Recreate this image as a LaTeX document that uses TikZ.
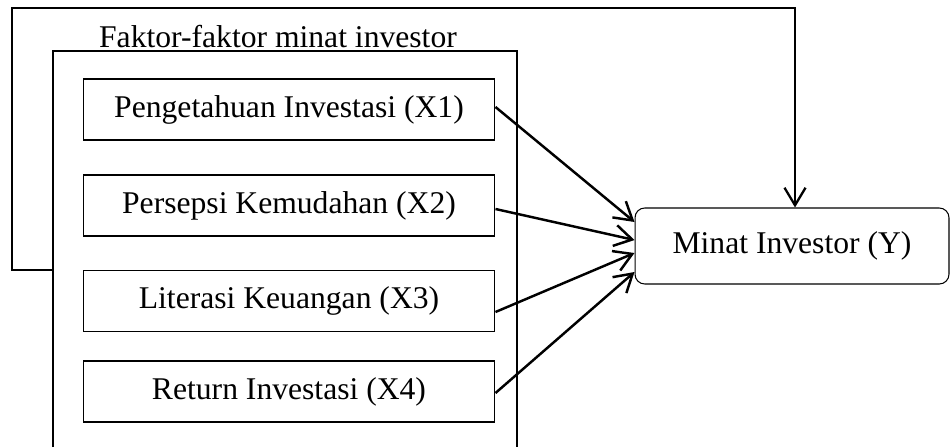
\documentclass[tikz,border=0pt]{standalone}
\usepackage{fontspec}
\setmainfont{Liberation Serif}
\usetikzlibrary{arrows.meta,calc}

\begin{document}
\begin{tikzpicture}[x=0.02cm,y=-0.02cm,
	factor/.style={draw,line width=0.6pt,minimum width=8.24cm,minimum height=1.22cm,inner sep=0pt},
	target/.style={draw,line width=0.6pt,rounded corners=5.5pt,minimum width=6.28cm,minimum height=1.52cm,inner sep=0pt},
	font=\fontsize{18}{22}\selectfont]
		\useasboundingbox (0,0) rectangle (950,447);
		\node (T) at (278,37) {Faktor-faktor minat investor};
		\node[factor] (X1) at (289,109.5) {Pengetahuan Investasi (X1)};
		\node[factor] (X2) at (289,205.5) {Persepsi Kemudahan (X2)};
		\node[factor] (X3) at (289,301) {Literasi Keuangan (X3)};
		\node[factor] (X4) at (289,391.5) {Return Investasi (X4)};
		\node[target] (Y) at (792,246) {Minat Investor (Y)};
		% frame around the factors, open at the bottom
		\draw[line width=1.2pt] (53,447) -- (53,51) -- (517,51) -- (517,447);
		\coordinate (F) at (53,270);
		%
		\path[->,line width=1.4pt,>={Straight Barb[length=10pt,width=12pt]}]
		% factor arrows
		($(X1.east)+(0,-2.5)$) edge ($(Y.west)+(0,-24)$)
		($(X2.east)+(0,3.5)$) edge ($(Y.west)+(0,-6)$)
		($(X3.east)+(0,11)$) edge ($(Y.west)+(0,7)$)
		($(X4.east)+(0,1.5)$) edge ($(Y.west)+(0,26)$);
		% frame to target
		\draw[->,line width=1.3pt,>={Straight Barb[length=10pt,width=12pt]}]
		(F) -| (12,8) -| ($(Y.north)+(3,0)$);
\end{tikzpicture}
\end{document}
